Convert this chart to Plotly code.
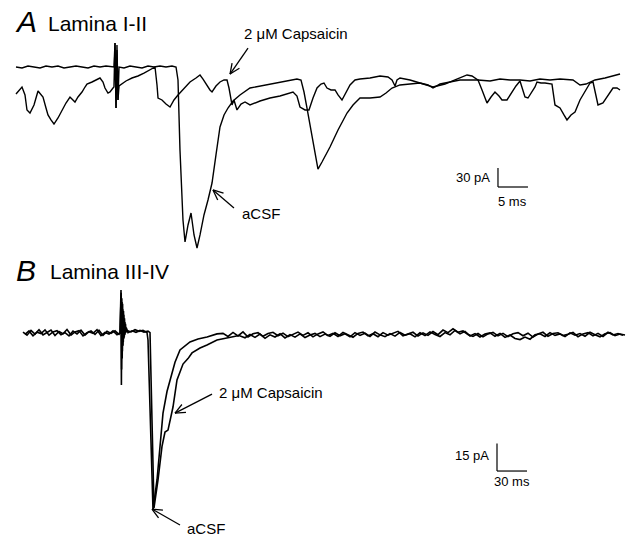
import math
import plotly.graph_objects as go

# ---------------- data ----------------
# Panel A (Lamina I-II): time in ms, current in pA (0 = aCSF baseline)
a_acsf_t = [0, 1.0, 2.0, 3.0, 4.0, 5.0, 6.0, 7.0, 8.0, 9.0, 10.0, 11.0, 12.0, 13.0, 14.0, 15.0, 16.0,
            16.33, 16.5, 16.67, 16.83, 17.0, 17.17, 18.0, 19.0, 20.0, 21.0, 22.0, 23.0, 24.0, 25.0, 26.0,
            26.67, 27.0, 27.33, 27.83, 28.17, 28.67, 29.17, 29.67, 30.17, 30.67, 31.33, 32.0, 32.67, 33.33,
            34.0, 34.67, 35.33, 36.17, 37.33, 39.0, 40.67, 42.33, 44.0, 45.67, 46.83, 47.5, 48.0, 48.5, 49.0,
            49.5, 50.0, 50.33, 51.0, 51.67, 52.33, 53.67, 55.17, 56.17, 57.33, 59.0, 60.67, 61.67, 62.67,
            64.0, 65.67, 67.33, 69.5, 71.5, 73.17, 75.17, 76.0, 77.0, 79.0, 80.67, 82.33, 84.0, 85.67, 87.33,
            89.0, 90.67, 92.83, 94.0, 95.0, 95.67, 96.5, 98.17, 99.33, 100.67]
a_acsf_i = [0, -1.6, 1.6, 0, -1.6, 1.6, 0, 1.6, -1.6, 0, 1.6, 0, -1.6, 1.6, 0, 1.6, 0,
            0, 37.9, -64.8, 34.8, -52.1, 0, -1.6, 1.6, 0, -1.6, 1.6, 0, 1.6, 0, 1.6,
            0, -20.5, -131.1, -241.7, -276.5, -249.6, -230.7, -265.4, -286.0, -265.4, -233.8, -210.1,
            -183.3, -139.0, -94.8, -75.8, -64.8, -53.7, -44.2, -33.2, -30.0, -26.9, -23.7, -20.5, -19.0,
            -20.5, -39.5, -64.8, -91.6, -120.1, -146.9, -161.2, -150.1, -139.0, -126.4, -99.5, -72.7, -60.0,
            -49.0, -49.0, -47.4, -41.1, -33.2, -28.4, -26.9, -25.3, -31.6, -26.9, -20.5, -12.6, -14.2, -20.5,
            -22.1, -19.0, -20.5, -20.5, -22.1, -19.0, -20.5, -19.0, -20.5, -28.4, -26.9, -23.7, -20.5, -17.4,
            -14.2, -11.1]

a_caps_t = [0, 0.5, 1.0, 1.5, 1.83, 2.33, 3.0, 3.67, 4.17, 4.5, 5.0, 5.33, 5.83, 6.33, 7.0, 7.67, 8.33,
            9.0, 9.5, 9.83, 10.33, 11.0, 11.5, 11.83, 12.67, 13.33, 14.0, 14.5, 14.83, 15.33, 15.67, 16.17,
            16.33, 16.5, 16.67, 16.83, 17.0, 17.17, 18.33, 19.33, 20.33, 21.33, 22.33, 23.17, 23.5, 23.67,
            24.33, 25.0, 25.67, 26.33, 27.0, 28.0, 29.0, 30.0, 30.67, 31.17, 31.67, 32.33, 32.67, 33.33, 34.0,
            34.67, 35.17, 35.5, 36.0, 36.33, 36.83, 37.5, 38.17, 39.0, 40.67, 42.33, 44.0, 45.67, 46.17, 46.83,
            47.33, 48.17, 48.83, 49.5, 50.17, 50.83, 51.33, 51.83, 52.5, 53.17, 53.67, 54.33, 55.0, 55.67,
            56.5, 57.33, 59.0, 60.67, 62.0, 62.67, 63.17, 63.5, 64.0, 65.67, 67.33, 68.67, 69.5, 70.67, 72.33,
            74.0, 75.17, 77.0, 77.67, 78.5, 79.17, 79.83, 80.5, 81.0, 81.83, 82.67, 83.33, 84.0, 84.5, 84.83,
            85.33, 86.0, 86.5, 86.83, 87.5, 88.17, 89.33, 89.83, 90.67, 91.33, 91.83, 92.5, 93.17, 94.0, 95.0,
            95.67, 96.17, 96.67, 97.0, 97.83, 98.67, 99.5, 100.17, 100.67]
a_caps_i = [-42.7, -36.3, -31.6, -44.2, -67.9, -72.7, -60.0, -37.9, -44.2, -47.4, -64.8, -75.8, -83.7,
            -90.1, -80.6, -67.9, -56.9, -47.4, -52.1, -55.3, -47.4, -39.5, -31.6, -26.9, -23.7, -20.5, -17.4,
            -23.7, -33.2, -41.1, -39.5, -33.2, -31.6, 37.9, -64.8, 26.9, -52.1, -30.0, -22.1, -17.4, -14.2,
            -9.5, -4.7, 0, -28.4, -49.0, -52.1, -58.5, -63.2, -52.1, -44.2, -33.2, -23.7, -17.4, -12.6, -19.0,
            -26.9, -36.3, -39.5, -30.0, -23.7, -20.5, -20.5, -33.2, -60.0, -52.1, -67.9, -58.5, -55.3, -60.0,
            -53.7, -49.0, -45.8, -41.1, -39.5, -45.8, -63.2, -67.9, -67.9, -49.0, -33.2, -26.9, -25.3, -33.2,
            -36.3, -36.3, -44.2, -52.1, -39.5, -28.4, -20.5, -19.0, -17.4, -14.2, -15.8, -20.5, -30.0, -20.5,
            -17.4, -20.5, -25.3, -28.4, -33.2, -26.9, -23.7, -20.5, -20.5, -20.5, -36.3, -56.9, -47.4, -39.5,
            -45.8, -52.1, -52.1, -39.5, -30.0, -22.1, -36.3, -47.4, -49.0, -39.5, -31.6, -23.7, -25.3, -25.3,
            -26.9, -60.0, -64.8, -75.8, -83.7, -75.8, -71.1, -52.1, -36.3, -25.3, -23.7, -44.2, -60.0, -56.9,
            -45.8, -33.2, -33.2, -36.3]

# Panel B (Lamina III-IV): time in ms, current in pA
b_acsf_t = ([0, 4, 8, 12, 16, 20, 24, 28, 32, 36, 40, 44, 48, 52, 56, 60, 64, 68, 72, 76, 80, 84, 88, 92, 96,
             97, 98, 98.4, 98.8, 99.2, 99.6, 100.0, 100.5, 101.0, 101.5, 102.0, 102.5, 103.0,
             104, 108, 112, 116, 120, 123, 124, 125, 130, 134, 137, 140, 144, 147, 152, 157, 162, 167, 175,
             184, 194] + list(range(200, 601, 5)))
b_acsf_i = [0.5, -1.2, 1.4, -0.6, 1.8, -1.0, 0.3, 1.6, -1.4, 0.8, -0.4, 1.9, -1.1, 0.6, 1.3, -1.6, 0.2, 1.1,
            -0.8, 1.5, -1.3, 0.9, -0.2, 1.2, -0.7,
            0.0, 23.5, -28.4, 19.0, -14.0, 16.0, -7.0, 12.0, -3.0, 8.0, -1.0, 5.0, 0.5,
            1.4, 0.6, 1.8, 0.9, 1.5, 0.8, 0.3, -3.8, -96.8, -80.4, -60.0, -43.8, -32.0, -25.7, -16.0, -9.3,
            -7.0, -4.9, -3.3, -2.2, -0.5,
            -0.2, -1.9, 0.3, -1.6, 0.6, -2.2, -0.4, 0.2, -1.8, -0.3,
            0.4, -1.5, -0.1, -2.0, -0.7, 0.5, -1.3, 0.1, -2.1, -0.5,
            0.6, -1.4, -0.2, -1.9, 0.3, -1.1, -2.3, -0.2, 0.5, -1.6,
            -0.4, -2.0, 0.2, -1.2, -0.3, 0.9, -1.5, -0.6, 0.4, -1.7,
            0.1, -1.3, 0.8, -0.9, 1.6, 0.2, 2.3, 0.4, 1.1, -0.8,
            -1.9, -0.3, -2.1, -0.5, 0.3, -1.6, -0.2, -2.0, -0.4, 0.2,
            -1.5, -0.1, -2.2, -0.6, 0.4, -1.8, -0.3, 0.1, -1.4, -0.7,
            0.3, -2.0, -0.5, 0.2, -1.6, -0.2, -1.9, 0.4, -1.1, -0.3,
            -1.2]

b_caps_t = ([2, 6, 10, 14, 18, 22, 26, 30, 34, 38, 42, 46, 50, 54, 58, 62, 66, 70, 74, 78, 82, 86, 90, 94,
             97, 98.2, 98.6, 99.0, 99.4, 99.8, 100.3, 100.8, 101.3, 101.8, 102.5, 103.2,
             105, 109, 113, 117, 121, 125, 127, 131, 135, 139, 142, 145, 150, 154, 160, 165, 169, 177, 184,
             194, 202, 210, 216] + list(range(222, 603, 5)))
b_caps_i = [-0.8, 1.1, -1.5, 0.4, -0.3, 1.7, -1.2, 0.6, 1.3, -0.9, 0.2, -1.6, 1.0, -0.5, 1.5, -1.1, 0.7,
            -0.2, 1.8, -1.4, 0.3, -0.6, 1.2, -0.9,
            0.0, 22.0, -20.0, 17.0, -10.0, 13.0, -5.0, 10.0, -2.0, 6.0, 0.0, 3.0,
            0.2, 1.2, 0.4, 1.4, 0.5, 1.0, 0.2, -95.7, -80.4, -62.0, -54.2, -53.1, -40.5, -25.7, -17.0, -14.0,
            -10.9, -8.2, -6.6, -3.8, -3.0, -2.2, -1.4,
            -2.6, -0.8, -2.4, -0.6, -2.9, -1.0, -2.2, -0.4, -2.7, -0.9,
            -2.3, -0.5, -2.5, -1.1, -0.2, -2.0, -0.6, -1.8, 0.1, -1.5,
            -0.4, -2.1, 0.2, -1.3, -0.1, -1.9, 0.5, -1.0, -2.0, -0.3,
            -1.7, 0.3, -1.2, -0.4, -2.1, 0.1, -1.4, 0.6, -0.8, -1.9,
            0.2, -1.0, 1.4, -0.5, 0.9, -1.6, -0.3, -2.2, -0.6, 0.1,
            -1.8, -0.2, -2.4, -1.1, -3.0, -3.6, -2.2, -3.4, -1.0, -0.4,
            -1.9, 0.2, -1.3, -0.5, -2.0, 0.1, -1.2, -0.3, -1.8, 0.4,
            -1.0, -2.1, -0.4, 0.2, -1.5, -0.6, -1.1]

# scale bars: lengths and anchor corner (time ms, current pA)
a_bar = dict(ms=5, pa=30, t0=80.33, i0=-189.6)
b_bar = dict(ms=30, pa=15, t0=474, i0=-75.5)

# labels: (text, arrow tip t, tip I, tail t, tail I, text t, text I)
a_labels = [("2 \u03bcM Capsaicin", 35.67, -11.1, 38.67, 29.9, 37.67, 53.7),
            ("aCSF", 32.83, -194.3, 36.33, -222.7, 37.33, -230.7)]
b_labels = [("2 \u03bcM Capsaicin", 152, -43.8, 189, -33.4, 194, -32.8),
            ("aCSF", 129, -96.3, 157, -105.0, 162, -106.8)]

# ---------------- layout calibration ----------------
W, H = 627, 537
SPLIT = 265
A = dict(x0=16, pxms=6.0, y0=67, papx=1.58)
B = dict(x0=23, pxms=1.0, y0=333, papx=0.547)


def to_px(cal, t, i):
    return cal["x0"] + t * cal["pxms"], cal["y0"] - i / cal["papx"]


fig = go.Figure()
for t, i in [(a_acsf_t, a_acsf_i), (a_caps_t, a_caps_i)]:
    fig.add_trace(go.Scatter(x=t, y=i, mode="lines", line=dict(color="black", width=1.4),
                             xaxis="x", yaxis="y", hoverinfo="skip", showlegend=False))
for t, i in [(b_acsf_t, b_acsf_i), (b_caps_t, b_caps_i)]:
    fig.add_trace(go.Scatter(x=t, y=i, mode="lines", line=dict(color="black", width=1.6),
                             xaxis="x2", yaxis="y2", hoverinfo="skip", showlegend=False))

ydomA = [1 - SPLIT / H, 1]
ydomB = [0, 1 - SPLIT / H]
ax_common = dict(visible=False, showgrid=False, zeroline=False, fixedrange=True)
fig.update_layout(
    width=W, height=H, autosize=False,
    margin=dict(l=0, r=0, t=0, b=0),
    paper_bgcolor="white", plot_bgcolor="white",
    xaxis=dict(domain=[0, 1], range=[(0 - A["x0"]) / A["pxms"], (W - A["x0"]) / A["pxms"]],
               anchor="y", **ax_common),
    yaxis=dict(domain=ydomA, range=[(A["y0"] - SPLIT) * A["papx"], A["y0"] * A["papx"]],
               anchor="x", **ax_common),
    xaxis2=dict(domain=[0, 1], range=[(0 - B["x0"]) / B["pxms"], (W - B["x0"]) / B["pxms"]],
                anchor="y2", **ax_common),
    yaxis2=dict(domain=ydomB, range=[(B["y0"] - H) * B["papx"], (B["y0"] - SPLIT) * B["papx"]],
                anchor="x2", **ax_common),
    showlegend=False,
)

SMALL = dict(family="Arial, Liberation Sans, sans-serif", size=13, color="black")
LABEL = dict(family="Arial, Liberation Sans, sans-serif", size=15, color="black")
TITLE = dict(family="Arial, Liberation Sans, sans-serif", size=21, color="black")
BIG = dict(family="Arial, Liberation Sans, sans-serif", size=30, color="black")

shapes = []
annots = []

# scale bars
for bar, xr, yr in [(a_bar, "x", "y"), (b_bar, "x2", "y2")]:
    t0, i0 = bar["t0"], bar["i0"]
    shapes.append(dict(type="line", xref=xr, yref=yr, x0=t0, x1=t0, y0=i0, y1=i0 + bar["pa"],
                       line=dict(color="black", width=1.2)))
    shapes.append(dict(type="line", xref=xr, yref=yr, x0=t0, x1=t0 + bar["ms"], y0=i0, y1=i0,
                       line=dict(color="black", width=1.2)))

annots.append(dict(text="30 pA", xref="x", yref="y", x=a_bar["t0"] - 1.0, y=a_bar["i0"] + 15,
                   xanchor="right", yanchor="middle", showarrow=False, font=SMALL))
annots.append(dict(text="5 ms", xref="x", yref="y", x=a_bar["t0"] + 2.5, y=a_bar["i0"] - 23,
                   xanchor="center", yanchor="middle", showarrow=False, font=SMALL))
annots.append(dict(text="15 pA", xref="x2", yref="y2", x=b_bar["t0"] - 6, y=b_bar["i0"] + 8.5,
                   xanchor="right", yanchor="middle", showarrow=False, font=SMALL))
annots.append(dict(text="30 ms", xref="x2", yref="y2", x=b_bar["t0"] + 15, y=b_bar["i0"] - 6,
                   xanchor="center", yanchor="middle", showarrow=False, font=SMALL))


def arrow(cal, tip_t, tip_i, tail_t, tail_i):
    tx, ty = to_px(cal, tip_t, tip_i)
    sx, sy = to_px(cal, tail_t, tail_i)
    dx, dy = tx - sx, ty - sy
    n = math.hypot(dx, dy)
    ux, uy = dx / n, dy / n
    out = [((sx, sy), (tx, ty))]
    L, ang = 11, math.radians(24)
    for s in (1, -1):
        ca, sa = math.cos(s * ang), math.sin(s * ang)
        rx, ry = ux * ca - uy * sa, ux * sa + uy * ca
        out.append(((tx, ty), (tx - L * rx, ty - L * ry)))
    for (x0, y0), (x1, y1) in out:
        shapes.append(dict(type="line", xref="paper", yref="paper",
                           x0=x0 / W, y0=1 - y0 / H, x1=x1 / W, y1=1 - y1 / H,
                           line=dict(color="black", width=1.3)))


for labels, cal, xr, yr in [(a_labels, A, "x", "y"), (b_labels, B, "x2", "y2")]:
    for text, tt, ti, st, si, xt, yt in labels:
        arrow(cal, tt, ti, st, si)
        annots.append(dict(text=text, xref=xr, yref=yr, x=xt, y=yt, xanchor="left",
                           yanchor="middle", showarrow=False, font=LABEL))

# panel titles
annots.append(dict(text="<i>A</i>", xref="paper", yref="paper", x=13 / W, y=1 - 21 / H,
                   xanchor="left", yanchor="middle", showarrow=False, font=BIG))
annots.append(dict(text="Lamina I-II", xref="paper", yref="paper", x=46 / W, y=1 - 23 / H,
                   xanchor="left", yanchor="middle", showarrow=False, font=TITLE))
annots.append(dict(text="<i>B</i>", xref="paper", yref="paper", x=14 / W, y=1 - 270 / H,
                   xanchor="left", yanchor="middle", showarrow=False, font=BIG))
annots.append(dict(text="Lamina III-IV", xref="paper", yref="paper", x=48 / W, y=1 - 271 / H,
                   xanchor="left", yanchor="middle", showarrow=False, font=TITLE))

fig.update_layout(shapes=shapes, annotations=annots)
fig.write_html("out.html")
